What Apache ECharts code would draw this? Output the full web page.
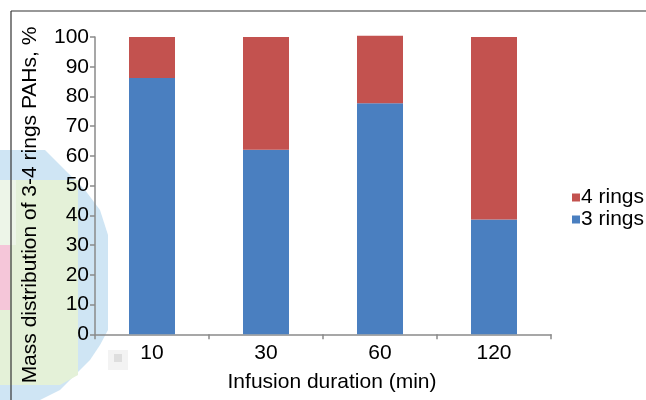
<!DOCTYPE html>
<html><head><meta charset="utf-8">
<script src="https://cdn.jsdelivr.net/npm/echarts@6/dist/echarts.min.js"></script>
<style>html,body{margin:0;padding:0;background:#fff;overflow:hidden}#c{width:646px;height:400px}</style>
</head><body><div id="c"></div>
<script>
const categories = ['10', '30', '60', '120'];
const rings3 = [86.2, 62.1, 77.7, 38.6];
const rings4 = [13.8, 37.9, 22.7, 61.4];
const yTicks = [0, 10, 20, 30, 40, 50, 60, 70, 80, 90, 100];

const chart = echarts.init(document.getElementById('c'));
const font = 'Liberation Sans, Arial, sans-serif';
const axisCol = '#8a8a8a';
chart.setOption({
  animation: false,
  backgroundColor: '#fff',
  grid: { left: 95, top: 37, width: 456, bottom: 65.7, containLabel: false },
  legend: {
    orient: 'vertical', left: 567, top: 182, itemWidth: 8, itemHeight: 8, itemGap: 1,
    data: ['4 rings', '3 rings'],
    icon: 'rect',
    textStyle: { fontFamily: font, fontSize: 21, color: '#000', padding: [0, 0, 0, -4] }
  },
  xAxis: {
    type: 'category', data: categories,
    axisLine: { lineStyle: { color: axisCol, width: 1.5 } },
    axisTick: { show: true, length: 5, lineStyle: { color: axisCol, width: 1.5 }, alignWithLabel: false },
    axisLabel: { fontFamily: font, fontSize: 21, color: '#000', margin: 8 }
  },
  yAxis: {
    type: 'value', min: yTicks[0], max: yTicks[yTicks.length - 1], interval: 10,
    splitLine: { show: false },
    axisLine: { show: true, lineStyle: { color: axisCol, width: 1.5 } },
    axisTick: { show: true, length: 5, lineStyle: { color: axisCol, width: 1.5 } },
    axisLabel: { fontFamily: font, fontSize: 21, color: '#000', margin: 6 }
  },
  graphic: [
    { type: 'polygon', z: -10, silent: true, shape: { points: [[0,150],[45,150],[60,165],[85,190],[100,210],[108,235],[108,330],[100,345],[90,360],[75,375],[60,390],[40,400],[0,400]] }, style: { fill: '#cfe5f4' } },
    { type: 'polygon', z: -9, silent: true, shape: { points: [[0,180],[78,180],[78,375],[60,385],[0,385]] }, style: { fill: '#e4f1d8' } },
    { type: 'rect', z: -8, silent: true, shape: { x: 0, y: 180, width: 16, height: 65 }, style: { fill: '#edf5e8' } },
    { type: 'rect', z: -8, silent: true, shape: { x: 0, y: 245, width: 10, height: 65 }, style: { fill: '#f5c6d9' } },
    { type: 'rect', z: -8, silent: true, shape: { x: 108, y: 350, width: 20, height: 20 }, style: { fill: '#f3f3f3' } },
    { type: 'rect', z: -7, silent: true, shape: { x: 114, y: 354, width: 8, height: 8 }, style: { fill: '#dedede' } },
    { type: 'line', silent: true, shape: { x1: 11, y1: 11, x2: 660, y2: 11 }, style: { stroke: '#333', lineWidth: 1.2 } },
    { type: 'line', silent: true, shape: { x1: 11, y1: 11, x2: 11, y2: 410 }, style: { stroke: '#333', lineWidth: 1.2 } },
    { type: 'text', silent: true, x: 30, y: 205, rotation: Math.PI / 2,
      style: { text: 'Mass distribution of 3-4 rings PAHs, %', fontFamily: font, fontSize: 21, fill: '#000', align: 'center', verticalAlign: 'middle' } },
    { type: 'text', silent: true, x: 332, y: 382,
      style: { text: 'Infusion duration (min)', fontFamily: font, fontSize: 21, fill: '#000', align: 'center', verticalAlign: 'middle' } }
  ],
  series: [
    { name: '3 rings', type: 'bar', stack: 'a', data: rings3, barWidth: 46, clip: false, itemStyle: { color: '#4A7FC0' } },
    { name: '4 rings', type: 'bar', stack: 'a', data: rings4, barWidth: 46, clip: false, itemStyle: { color: '#C3524F' } }
  ]
});
</script></body></html>
